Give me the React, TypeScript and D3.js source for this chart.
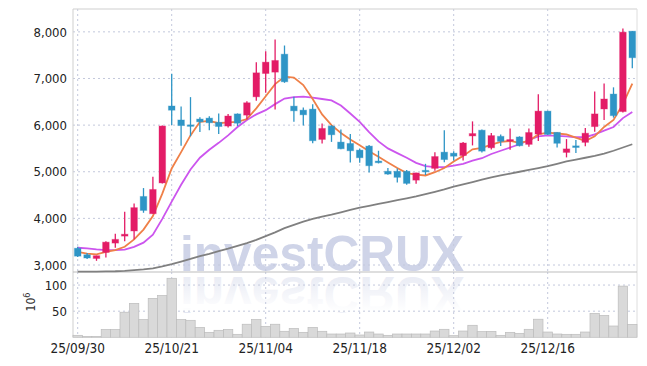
import React from 'react';
import * as d3 from 'd3';

const dates = [
  '25/09/30', '25/10/01', '25/10/02', '25/10/10', '25/10/13', '25/10/14', '25/10/15', '25/10/16', '25/10/17', '25/10/20',
  '25/10/21', '25/10/22', '25/10/23', '25/10/24', '25/10/27', '25/10/28', '25/10/29', '25/10/30', '25/10/31', '25/11/03',
  '25/11/04', '25/11/05', '25/11/06', '25/11/07', '25/11/10', '25/11/11', '25/11/12', '25/11/13', '25/11/14', '25/11/17',
  '25/11/18', '25/11/19', '25/11/20', '25/11/21', '25/11/24', '25/11/25', '25/11/26', '25/11/27', '25/11/28', '25/12/01',
  '25/12/02', '25/12/03', '25/12/04', '25/12/05', '25/12/08', '25/12/09', '25/12/10', '25/12/11', '25/12/12', '25/12/15',
  '25/12/16', '25/12/17', '25/12/18', '25/12/19', '25/12/22', '25/12/23', '25/12/24', '25/12/26', '25/12/29', '25/12/30',
];

const open = [
  3360, 3220, 3140, 3270, 3470, 3620, 3730, 4470, 4100, 4760,
  6410, 6110, 6005, 6130, 6150, 6060, 5980, 6240, 6214, 6607,
  7107, 7136, 7521, 6407, 6321, 6343, 5693, 5979, 5636, 5607,
  5464, 5550, 5229, 5010, 5010, 5010, 4820, 5030, 5072, 5420,
  5398, 5348, 5768, 5891, 5514, 5760, 5660, 5746, 5587, 5808,
  6300, 5845, 5414, 5555, 5630, 5968, 6346, 6666, 6290, 8014,
];
const high = [
  3390, 3260, 3200, 3510, 3670, 4140, 4320, 4650, 4890, 5990,
  7100, 6400, 6600, 6170, 6190, 6250, 6240, 6250, 6510, 7350,
  7586, 7836, 7707, 6607, 6380, 6450, 6036, 6000, 5907, 5807,
  5500, 5571, 5450, 5080, 5070, 5036, 4980, 5170, 5420, 5891,
  5440, 5638, 6080, 5906, 5833, 5797, 5927, 5760, 5927, 6660,
  6310, 5845, 5700, 5680, 5940, 6720, 6895, 6810, 8070, 8020,
];
const low = [
  3170, 3130, 3090, 3160, 3370, 3510, 3550, 4120, 4100, 4750,
  6000, 5560, 5760, 5850, 5890, 5810, 5950, 5980, 6120, 6520,
  6693, 6336, 6907, 6071, 5993, 5610, 5607, 5640, 5480, 5200,
  5193, 4986, 5179, 4936, 4770, 4720, 4745, 4930, 5020, 5203,
  5240, 5239, 5565, 5413, 5478, 5551, 5471, 5543, 5536, 5660,
  5790, 5520, 5308, 5400, 5548, 5860, 6110, 6160, 6270, 7220,
];
const close = [
  3190, 3150, 3200, 3490, 3550, 3660, 4230, 4170, 4620, 5980,
  6320, 5990, 5995, 6070, 6050, 5970, 6195, 6040, 6479, 7121,
  7350, 7386, 6929, 6307, 6221, 5665, 5929, 5793, 5493, 5450,
  5300, 5129, 5193, 4950, 4880, 4750, 4975, 5000, 5326, 5261,
  5333, 5616, 5819, 5442, 5775, 5652, 5690, 5558, 5841, 6300,
  5800, 5610, 5490, 5520, 5826, 6240, 6560, 6203, 7993, 7445,
];

// volume, in millions of shares
const volume = [
  3.8, 1.5, 1.5, 15, 15, 48, 65, 34, 74.5, 80,
  113, 34, 32.5, 19, 9.5, 13.4, 15, 5.7, 25, 34,
  21, 25, 11.5, 17, 9.5, 19, 11.5, 6.3, 6.3, 8.2,
  4.4, 10.1, 6.3, 3.8, 6.3, 6.3, 6.3, 6.3, 12, 15.3,
  3.1, 12, 23, 10.8, 11.4, 3.8, 9.5, 7.6, 15.3, 34.6,
  10.1, 6.3, 5.7, 5.7, 10.1, 45.8, 42, 21.6, 98, 24.8,
];

// moving averages
const ma5 = [
  3280, 3245, 3230, 3280, 3320, 3390, 3550, 3760, 4050, 4530,
  5070, 5420, 5780, 6070, 6090, 6040, 6060, 6070, 6130, 6360,
  6620, 6880, 7040, 7020, 6860, 6560, 6230, 6000, 5830, 5690,
  5570, 5440, 5320, 5200, 5080, 4970, 4940, 4920, 4990, 5080,
  5220, 5340, 5480, 5510, 5580, 5640, 5660, 5620, 5660, 5800,
  5840, 5820, 5800, 5730, 5660, 5760, 5960, 6110, 6450, 6890,
];
const ma20 = [
  3370, 3355, 3335, 3320, 3320, 3330, 3390, 3480, 3650, 3990,
  4360, 4720, 5050, 5300, 5470, 5620, 5780, 5960, 6110, 6230,
  6320, 6450, 6570, 6600, 6610, 6590, 6560, 6530, 6420, 6250,
  6070, 5850, 5650, 5500, 5400, 5300, 5190, 5120, 5100, 5100,
  5130, 5170, 5240, 5290, 5380, 5450, 5520, 5590, 5680, 5760,
  5780, 5770, 5760, 5740, 5740, 5800, 5880, 5960, 6150, 6280,
];
const ma60 = [
  2857, 2858, 2860, 2862, 2866, 2875, 2890, 2905, 2930, 2970,
  3020, 3075, 3130, 3190, 3240, 3300, 3350, 3410, 3470, 3540,
  3620, 3700, 3790, 3860, 3930, 3990, 4040, 4080, 4130, 4180,
  4230, 4270, 4310, 4350, 4390, 4430, 4470, 4520, 4570, 4620,
  4680, 4730, 4780, 4830, 4880, 4920, 4960, 5000, 5040, 5080,
  5120, 5170, 5220, 5260, 5300, 5340, 5390, 5450, 5520, 5590,
];

const priceTicks = [3000, 4000, 5000, 6000, 7000, 8000];
const volumeTicks = [50, 100];
const dateTicks = ['25/09/30', '25/10/21', '25/11/04', '25/11/18', '25/12/02', '25/12/16'];

const W = 647;
const H = 366;
const left = 73;
const right = 637;
const top = 9;
const split = 272;
const bottom = 337.3;

const UP = '#e31c66';
const DOWN = '#2e95c6';
const GRID = '#c3c8dc';
const FONT = "'DejaVu Sans Condensed', 'DejaVu Sans', sans-serif";
const MARK_FONT = "'Liberation Sans', Arial, sans-serif";

export default function App() {
  const idx = d3.range(dates.length);
  const x = d3.scaleBand<number>().domain(idx).range([left, right]).padding(0);
  const bw = x.bandwidth();
  const cx = (i: number) => (x(i) as number) + bw / 2;
  const y = d3.scaleLinear().domain([2850, 8490]).range([split, top]);
  const yv = d3.scaleLinear().domain([0, 125]).range([bottom, split]);

  const line = (vals: number[]) =>
    d3.line<number>().x((_, i) => cx(i)).y(d => y(d))(vals) || '';

  const candleW = bw * 0.7;

  return (
    <svg width={W} height={H} style={{ position: 'absolute', left: 0, top: 0, background: '#fff' }}>
      <defs>
        <linearGradient id="fade" x1="0" y1="0" x2="0" y2="1">
          <stop offset="0" stopColor="#ffffff" stopOpacity="0.1" />
          <stop offset="1" stopColor="#ffffff" stopOpacity="1" />
        </linearGradient>
      </defs>

      {/* watermark + mirrored reflection */}
      <text id="mark" x={180} y={271} fontFamily={MARK_FONT} fontWeight="bold" fontSize={50}
        textLength={284} lengthAdjust="spacingAndGlyphs" fill="#cfd4e8">investCRUX</text>
      <use href="#mark" transform="translate(0,548) scale(1,-1)" opacity={0.55} />
      <rect x={left + 1} y={split} width={right - left - 1} height={40} fill="url(#fade)" />

      {/* grid */}
      {priceTicks.map(t => (
        <line key={'hp' + t} x1={left} x2={right} y1={y(t)} y2={y(t)} stroke={GRID} strokeDasharray="2,3" />
      ))}
      {volumeTicks.map(t => (
        <line key={'hv' + t} x1={left} x2={right} y1={yv(t)} y2={yv(t)} stroke={GRID} strokeDasharray="2,3" />
      ))}
      {dateTicks.map(d => {
        const xx = cx(dates.indexOf(d));
        return (
          <g key={'vg' + d}>
            <line x1={xx} x2={xx} y1={top} y2={split} stroke={GRID} strokeDasharray="2,3" />
            <line x1={xx} x2={xx} y1={split} y2={bottom} stroke={GRID} strokeDasharray="2,3" />
          </g>
        );
      })}

      {/* frame */}
      <line x1={left} x2={right} y1={top} y2={top} stroke="#cfcfcf" />
      <line x1={left} x2={left} y1={top} y2={bottom} stroke="#cfcfcf" />
      <line x1={right} x2={right} y1={top} y2={bottom} stroke="#dedede" />
      <line x1={left} x2={right} y1={split} y2={split} stroke="#bdbdbd" />

      {/* volume */}
      {volume.map((v, i) => (
        <rect key={'v' + i} x={x(i)} y={yv(v)} width={bw} height={bottom - yv(v)}
          fill="#d9d9d9" stroke="#bcbcbc" strokeWidth={0.7} />
      ))}

      {/* moving averages */}
      <path d={line(ma60)} fill="none" stroke="#808080" strokeWidth={1.8} />
      <path d={line(ma20)} fill="none" stroke="#cc55ee" strokeWidth={1.8} />
      <path d={line(ma5)} fill="none" stroke="#ef8048" strokeWidth={1.8} />

      {/* candles */}
      {idx.map(i => {
        const up = close[i] >= open[i];
        const c = up ? UP : DOWN;
        const yTop = y(Math.max(open[i], close[i]));
        const yBot = y(Math.min(open[i], close[i]));
        return (
          <g key={'c' + i}>
            <line x1={cx(i)} x2={cx(i)} y1={y(high[i])} y2={y(low[i])} stroke={c} strokeWidth={1.3} />
            <rect x={cx(i) - candleW / 2} y={yTop} width={candleW} height={Math.max(1.5, yBot - yTop)}
              fill={c} stroke={c} strokeOpacity={0.35} strokeWidth={1} />
          </g>
        );
      })}

      {/* axis labels */}
      {priceTicks.map(t => (
        <text key={'pl' + t} x={67} y={y(t)} dy="0.36em" textAnchor="end" fontFamily={FONT}
          fontStretch="condensed" fontSize={13} fill="#222">{d3.format(',')(t)}</text>
      ))}
      {volumeTicks.map(t => (
        <text key={'vl' + t} x={67} y={yv(t)} dy="0.36em" textAnchor="end" fontFamily={FONT}
          fontStretch="condensed" fontSize={13} fill="#222">{t}</text>
      ))}
      <text transform="translate(35,302) rotate(-90)" textAnchor="middle" fontFamily={FONT} fontSize={12} fill="#333">
        10<tspan dy="-5" fontSize={9}>6</tspan>
      </text>
      {dateTicks.map(d => (
        <text key={'xl' + d} x={cx(dates.indexOf(d))} y={353} textAnchor="middle" fontFamily={FONT}
          fontStretch="condensed" fontSize={13.5} fill="#222">{d}</text>
      ))}
    </svg>
  );
}
